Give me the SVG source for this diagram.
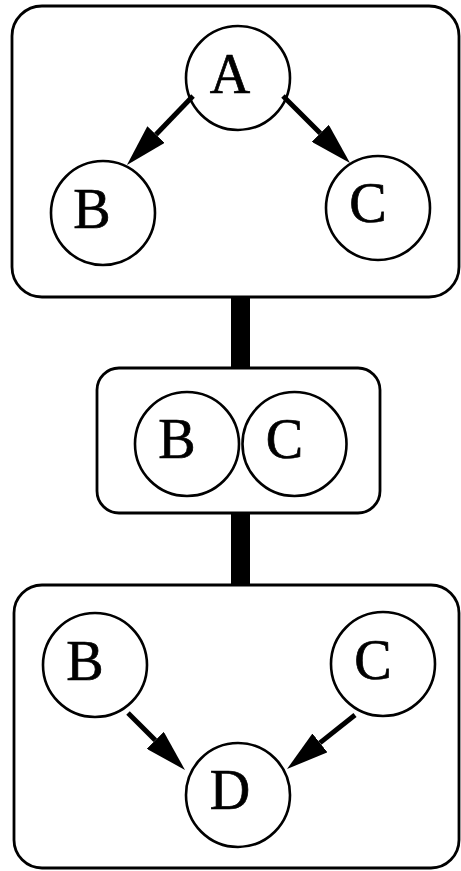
<svg xmlns="http://www.w3.org/2000/svg" width="461" height="871" viewBox="0 0 461 871">
  <style>
    .frame { fill: #fff; stroke: #000; stroke-width: 2.8; }
    .node circle { fill: #fff; stroke: #000; stroke-width: 2.6; }
    .node text { font-family: "Liberation Serif", "Times New Roman", serif; font-size: 56px; text-anchor: middle; fill: #000; stroke: #000; stroke-width: 0.7; }
    .edge { stroke: #000; stroke-width: 5; fill: none; marker-end: url(#head); }
    .link { stroke: #000; stroke-width: 19; }
  </style>
  <defs>
    <marker id="head" markerUnits="userSpaceOnUse" viewBox="0 0 42 24" refX="0" refY="12" markerWidth="42" markerHeight="24" orient="auto">
      <path d="M0,0 L42,12 L0,24 Z" fill="#000"/>
    </marker>
  </defs>

  <!-- thick links between the three panels -->
  <g id="links">
    <line class="link" x1="240.5" y1="296" x2="240.5" y2="369"/>
    <line class="link" x1="240.5" y1="512" x2="240.5" y2="586"/>
  </g>

  <!-- panels -->
  <rect id="panel-top" class="frame" x="12" y="6" width="447" height="291" rx="30" ry="30"/>
  <rect id="panel-mid" class="frame" x="97" y="368" width="283" height="145" rx="22" ry="22"/>
  <rect id="panel-bottom" class="frame" x="14" y="585" width="445" height="283" rx="28" ry="28"/>

  <!-- top panel: A -> B, A -> C -->
  <g id="top-A" class="node"><circle cx="238" cy="78" r="52"/><text x="230" y="93">A</text></g>
  <g id="top-B" class="node"><circle cx="103" cy="213" r="52"/><text x="92" y="228">B</text></g>
  <g id="top-C" class="node"><circle cx="378" cy="208" r="52"/><text x="368" y="222">C</text></g>

  <!-- middle panel: merged B and C -->
  <g id="mid-B" class="node"><circle cx="187" cy="444" r="52"/><text x="177" y="458">B</text></g>
  <g id="mid-C" class="node"><circle cx="294.5" cy="444" r="52"/><text x="284.5" y="458">C</text></g>

  <!-- bottom panel: B -> D, C -> D -->
  <g id="bot-B" class="node"><circle cx="95" cy="665" r="52"/><text x="85" y="680">B</text></g>
  <g id="bot-C" class="node"><circle cx="383" cy="664" r="52"/><text x="373" y="679">C</text></g>
  <g id="bot-D" class="node"><circle cx="238" cy="795" r="52"/><text x="230" y="809">D</text></g>

  <g id="edges">
    <line class="edge" x1="193" y1="96" x2="156" y2="134.6"/>
    <line class="edge" x1="283" y1="96" x2="320.3" y2="133.3"/>
    <line class="edge" x1="128" y1="713" x2="155.3" y2="740.3"/>
    <line class="edge" x1="355" y1="715" x2="319.9" y2="742.9"/>
  </g>
</svg>
